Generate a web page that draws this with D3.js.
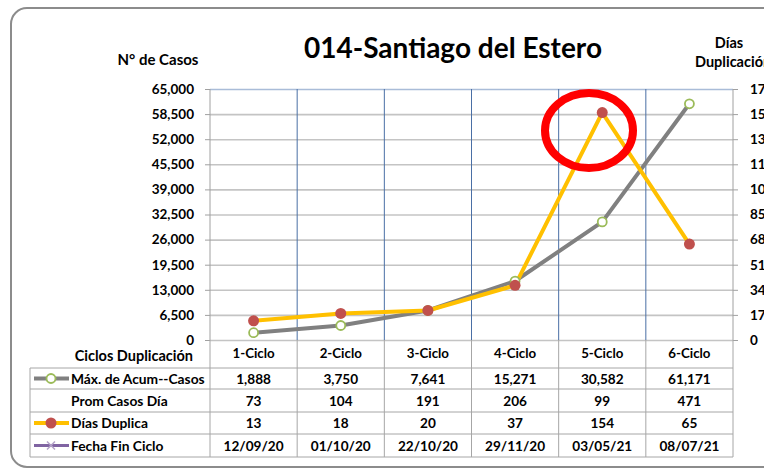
<!DOCTYPE html>
<html>
<head>
<meta charset="utf-8">
<script src="https://cdn.jsdelivr.net/npm/d3@7"></script>
<style>
  body { margin: 0; background: #fff; }
  svg text { font-family: Lato, "Liberation Sans", sans-serif; font-weight: bold; fill: #000; }
</style>
</head>
<body>
<div id="chart"></div>
<script>
// data
const cycles = ["1-Ciclo", "2-Ciclo", "3-Ciclo", "4-Ciclo", "5-Ciclo", "6-Ciclo"];
const maxAcum = [1888, 3750, 7641, 15271, 30582, 61171];
const promCasos = [73, 104, 191, 206, 99, 471];
const diasDuplica = [13, 18, 20, 37, 154, 65];
const fechaFin = ["12/09/20", "01/10/20", "22/10/20", "29/11/20", "03/05/21", "08/07/21"];
const leftTicks = d3.range(0, 65001, 6500);
const rightTicks = d3.range(0, 171, 17);

const W = 764, H = 471;
const plot = {left: 210, right: 733, top: 89, bottom: 340};

const svg = d3.select("#chart").append("svg")
    .attr("width", W)
    .attr("height", H);

// outer frame
svg.append("rect")
    .attr("x", 11).attr("y", 8)
    .attr("width", 790).attr("height", 459)
    .attr("rx", 16)
    .attr("fill", "#fff")
    .attr("stroke", "#8c8c8c")
    .attr("stroke-width", 2);

const x = d3.scaleBand().domain(cycles).range([plot.left, plot.right]);
const yL = d3.scaleLinear().domain([0, 65000]).range([plot.bottom, plot.top]);
const yR = d3.scaleLinear().domain([0, 170]).range([plot.bottom, plot.top]);

// horizontal gridlines
svg.append("g")
    .attr("transform", `translate(${plot.left},0)`)
    .call(d3.axisLeft(yL).tickValues(leftTicks).tickSize(-(plot.right - plot.left)).tickFormat(""))
    .call(g => g.select(".domain").remove())
    .call(g => g.selectAll(".tick line")
        .attr("stroke", d => d === 65000 ? "#a9bcd8" : "#c4c4c4")
        .attr("stroke-width", 1.6));

// vertical category lines (blue inside plot)
svg.append("g").selectAll("line")
    .data(cycles.slice(1))
    .join("line")
    .attr("x1", d => x(d)).attr("x2", d => x(d))
    .attr("y1", plot.top).attr("y2", plot.bottom)
    .attr("stroke", "#4a6fa5")
    .attr("stroke-width", 1);

// left axis
svg.append("g")
    .attr("transform", `translate(${plot.left},0)`)
    .call(d3.axisLeft(yL).tickValues(leftTicks).tickSize(5).tickPadding(11).tickFormat(d3.format(",")))
    .call(g => g.select(".domain").attr("stroke", "#a0a0a0").attr("d", `M0,${plot.top}V${plot.bottom}`))
    .call(g => g.selectAll(".tick line").attr("stroke", "#a0a0a0"))
    .call(g => g.selectAll(".tick text").attr("font-size", 13.5));

// right axis (labels run past the window edge, as in the original)
svg.append("g")
    .attr("transform", `translate(${plot.right},0)`)
    .call(d3.axisRight(yR).tickValues(rightTicks).tickSize(5).tickPadding(12))
    .call(g => g.select(".domain").attr("stroke", "#a0a0a0").attr("d", `M0,${plot.top}V${plot.bottom}`))
    .call(g => g.selectAll(".tick line").attr("stroke", "#a0a0a0"))
    .call(g => g.selectAll(".tick text").attr("font-size", 13.5));

// titles
svg.append("text")
    .attr("x", 453).attr("y", 58)
    .attr("text-anchor", "middle")
    .attr("font-size", 28)
    .text("014-Santiago del Estero");
svg.append("text")
    .attr("x", 158).attr("y", 65)
    .attr("text-anchor", "middle")
    .attr("font-size", 15)
    .text("N° de Casos");
svg.append("text")
    .attr("x", 729).attr("y", 48)
    .attr("text-anchor", "middle")
    .attr("font-size", 14.5)
    .text("Días");
svg.append("text")
    .attr("x", 695).attr("y", 67)
    .attr("font-size", 14.5)
    .text("Duplicación");

// lines
const cx = d => x(d) + x.bandwidth() / 2;

svg.append("path")
    .datum(maxAcum)
    .attr("fill", "none")
    .attr("stroke", "#808080")
    .attr("stroke-width", 4)
    .attr("stroke-linejoin", "round")
    .attr("d", d3.line().x((d, i) => cx(cycles[i])).y(d => yL(d)));

svg.append("path")
    .datum(diasDuplica)
    .attr("fill", "none")
    .attr("stroke", "#ffc000")
    .attr("stroke-width", 4)
    .attr("stroke-linejoin", "round")
    .attr("d", d3.line().x((d, i) => cx(cycles[i])).y(d => yR(d)));

svg.append("g").selectAll("circle")
    .data(maxAcum)
    .join("circle")
    .attr("cx", (d, i) => cx(cycles[i]))
    .attr("cy", d => yL(d))
    .attr("r", 4.5)
    .attr("fill", "#fff")
    .attr("stroke", "#9bbb59")
    .attr("stroke-width", 1.8);

svg.append("g").selectAll("circle")
    .data(diasDuplica)
    .join("circle")
    .attr("cx", (d, i) => cx(cycles[i]))
    .attr("cy", d => yR(d))
    .attr("r", 5.5)
    .attr("fill", "#c0504d");

// red annotation ring
svg.append("ellipse")
    .attr("cx", 589).attr("cy", 130.5)
    .attr("rx", 44).attr("ry", 37.5)
    .attr("fill", "none")
    .attr("stroke", "#ff0000")
    .attr("stroke-width", 8);

// data table
const rowsY = [368, 389, 412, 434, 457];
const tableLeft = 30;
const grid = svg.append("g").attr("stroke", "#a6a6a6").attr("stroke-width", 1);

grid.selectAll("line.h")
    .data(rowsY)
    .join("line")
    .attr("class", "h")
    .attr("x1", tableLeft).attr("x2", plot.right)
    .attr("y1", d => d).attr("y2", d => d);

grid.selectAll("line.v")
    .data(cycles.map(c => x(c)).concat([plot.right]))
    .join("line")
    .attr("class", "v")
    .attr("x1", d => d).attr("x2", d => d)
    .attr("y1", plot.bottom).attr("y2", rowsY[rowsY.length - 1]);

grid.append("line")
    .attr("x1", tableLeft).attr("x2", tableLeft)
    .attr("y1", rowsY[0]).attr("y2", rowsY[rowsY.length - 1]);

// header row
svg.append("text")
    .attr("x", 193).attr("y", 361)
    .attr("text-anchor", "end")
    .attr("font-size", 14.5)
    .text("Ciclos Duplicación");
svg.append("g").selectAll("text")
    .data(cycles)
    .join("text")
    .attr("x", d => cx(d))
    .attr("y", 358)
    .attr("text-anchor", "middle")
    .attr("font-size", 13.3)
    .text(d => d);

const fmt = d3.format(",");
const tableRows = [
    {label: "Máx. de Acum--Casos", values: maxAcum.map(fmt), key: "acum"},
    {label: "Prom Casos Día", values: promCasos.map(fmt), key: "none"},
    {label: "Días Duplica", values: diasDuplica.map(fmt), key: "dias"},
    {label: "Fecha Fin Ciclo", values: fechaFin, key: "fecha"}
];

tableRows.forEach((row, r) => {
    const mid = (rowsY[r] + rowsY[r + 1]) / 2;
    svg.append("text")
        .attr("x", 71).attr("y", mid + 5)
        .attr("font-size", 13.8)
        .text(row.label);
    svg.append("g").selectAll("text")
        .data(row.values)
        .join("text")
        .attr("x", (d, i) => cx(cycles[i]))
        .attr("y", mid + 5)
        .attr("text-anchor", "middle")
        .attr("font-size", 13.6)
        .text(d => d);

    // legend keys
    const k = svg.append("g");
    if (row.key === "acum") {
        k.append("line").attr("x1", 34).attr("x2", 69).attr("y1", mid).attr("y2", mid)
            .attr("stroke", "#808080").attr("stroke-width", 4);
        k.append("circle").attr("cx", 51).attr("cy", mid).attr("r", 4.5)
            .attr("fill", "#fff").attr("stroke", "#9bbb59").attr("stroke-width", 1.8);
    } else if (row.key === "dias") {
        k.append("line").attr("x1", 34).attr("x2", 69).attr("y1", mid).attr("y2", mid)
            .attr("stroke", "#ffc000").attr("stroke-width", 4);
        k.append("circle").attr("cx", 51).attr("cy", mid).attr("r", 5.5)
            .attr("fill", "#c0504d");
    } else if (row.key === "fecha") {
        k.append("line").attr("x1", 34).attr("x2", 69).attr("y1", mid).attr("y2", mid)
            .attr("stroke", "#8064a2").attr("stroke-width", 3);
        k.append("path").attr("d", `M47,${mid - 4}L55,${mid + 4}M47,${mid + 4}L55,${mid - 4}`)
            .attr("stroke", "#b3a2c7").attr("stroke-width", 1.5);
    }
});
</script>
</body>
</html>
